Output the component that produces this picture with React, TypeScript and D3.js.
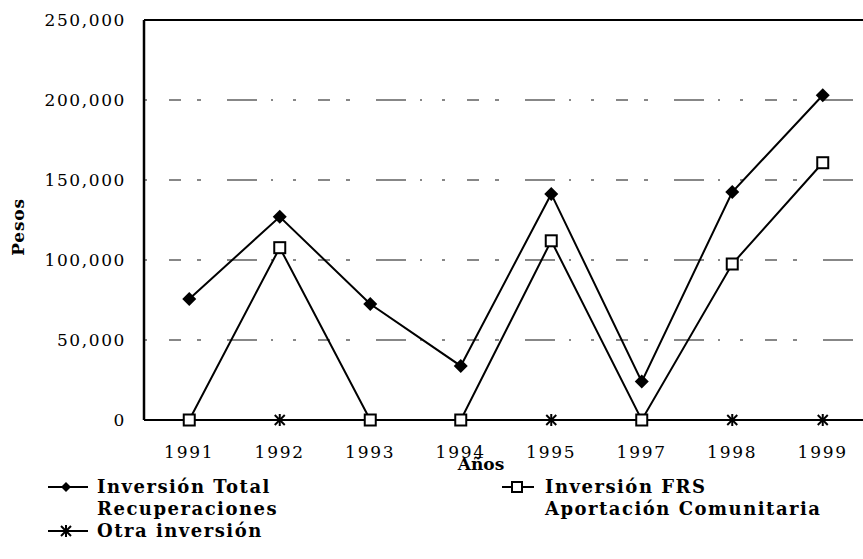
import React from "react";
import * as d3 from "d3";

const years = ["1991", "1992", "1993", "1994", "1995", "1997", "1998", "1999"];
const totalRecuperaciones = [75600, 127000, 72500, 33800, 141300, 24000, 142500, 203000];
const frsComunitaria = [0, 107700, 0, 0, 112000, 0, 97500, 160800];
const otraInversion = [0, 0, 0, 0, 0, 0, 0, 0];
const yTicks = [0, 50000, 100000, 150000, 200000, 250000];

const W = 863;
const H = 559;
const left = 144;
const top = 20;
const bottom = 420;
const step = 90.5;
const right = left + step * years.length;

const serif = "'DejaVu Serif', 'Liberation Serif', serif";

export default function App() {
  const x = d3.scaleBand<string>().domain(years).range([left, right]).padding(0);
  const y = d3.scaleLinear().domain([0, 250000]).range([bottom, top]);
  const cx = (yr: string) => (x(yr) as number) + x.bandwidth() / 2;
  const line = d3
    .line<number>()
    .x((_, i) => cx(years[i]))
    .y((v) => y(v));
  const fmt = d3.format(",");

  const diamond = (px: number, py: number, key: string | number, s = 7) => (
    <path
      key={key}
      d={`M${px},${py - s}L${px + s},${py}L${px},${py + s}L${px - s},${py}Z`}
      fill="#000"
    />
  );
  const square = (px: number, py: number, key: string | number, s = 5.5) => (
    <rect
      key={key}
      x={px - s}
      y={py - s}
      width={2 * s}
      height={2 * s}
      fill="#fff"
      stroke="#000"
      strokeWidth={2}
    />
  );
  const star = (px: number, py: number, key: string | number, s = 5) => (
    <g key={key} stroke="#000" strokeWidth={2}>
      <line x1={px - s} y1={py - s} x2={px + s} y2={py + s} />
      <line x1={px - s} y1={py + s} x2={px + s} y2={py - s} />
      <line x1={px} y1={py - s - 1} x2={px} y2={py + s + 1} />
    </g>
  );

  return (
    <svg
      width={W}
      height={H}
      style={{ position: "absolute", left: 0, top: 0, background: "#fff" }}
    >
      {/* gridlines */}
      {yTicks
        .filter((t) => t > 0 && t < 250000)
        .map((t) => (
          <line
            key={t}
            x1={left}
            x2={right}
            y1={y(t)}
            y2={y(t)}
            stroke="#111"
            strokeWidth={1.2}
            strokeDasharray="3,22,12,16,4,26,30,14,2,20"
          />
        ))}
      {/* frame */}
      <line x1={left} x2={right} y1={top} y2={top} stroke="#000" strokeWidth={2} />
      <line x1={left} x2={left} y1={top} y2={bottom} stroke="#000" strokeWidth={2.5} />
      <line x1={left} x2={right} y1={bottom} y2={bottom} stroke="#000" strokeWidth={2} />
      <line x1={right} x2={right} y1={top} y2={bottom} stroke="#000" strokeWidth={2} />

      {/* y ticks */}
      {yTicks.map((t) => (
        <text
          key={t}
          x={126}
          y={y(t)}
          dy="0.36em"
          textAnchor="end"
          fontFamily={serif}
          fontSize={17}
          letterSpacing={1.6}
          fill="#000"
        >
          {fmt(t)}
        </text>
      ))}
      {/* x ticks */}
      {years.map((yr) => (
        <text
          key={yr}
          x={cx(yr)}
          y={452}
          dy="0.36em"
          textAnchor="middle"
          fontFamily={serif}
          fontSize={17}
          letterSpacing={1.8}
          fill="#000"
        >
          {yr}
        </text>
      ))}
      <text
        x={481}
        y={464}
        dy="0.36em"
        textAnchor="middle"
        fontFamily={serif}
        fontWeight="bold"
        fontSize={17}
        fill="#000"
      >
        Años
      </text>
      <text
        transform={`translate(18,${227}) rotate(-90)`}
        dy="0.36em"
        textAnchor="middle"
        fontFamily={serif}
        fontWeight="bold"
        fontSize={17}
        letterSpacing={0.8}
        fill="#000"
      >
        Pesos
      </text>

      {/* series lines */}
      <path d={line(otraInversion) || ""} fill="none" stroke="#000" strokeWidth={2} />
      <path d={line(frsComunitaria) || ""} fill="none" stroke="#000" strokeWidth={2} />
      <path d={line(totalRecuperaciones) || ""} fill="none" stroke="#000" strokeWidth={2} />
      {otraInversion.map((v, i) => star(cx(years[i]), y(v), `s${i}`))}
      {frsComunitaria.map((v, i) => square(cx(years[i]), y(v), `q${i}`))}
      {totalRecuperaciones.map((v, i) => diamond(cx(years[i]), y(v), `d${i}`))}

      {/* legend */}
      <g fontFamily={serif} fontWeight="bold" fontSize={18} letterSpacing={1.5} fill="#000">
        <line x1={48} x2={88} y1={487} y2={487} stroke="#000" strokeWidth={2} />
        {diamond(66, 487, "ld", 5)}
        <text x={97} y={487} dy="0.36em">Inversión Total</text>
        <text x={97} y={509} dy="0.36em">Recuperaciones</text>
        <line x1={48} x2={88} y1={531} y2={531} stroke="#000" strokeWidth={2} />
        {star(66, 531, "ls", 5)}
        <text x={97} y={531} dy="0.36em">Otra inversión</text>
        <line x1={502} x2={534} y1={487} y2={487} stroke="#000" strokeWidth={2} />
        {square(517, 487, "lq", 5)}
        <text x={545} y={487} dy="0.36em">Inversión FRS</text>
        <text x={545} y={509} dy="0.36em">Aportación Comunitaria</text>
      </g>
    </svg>
  );
}
